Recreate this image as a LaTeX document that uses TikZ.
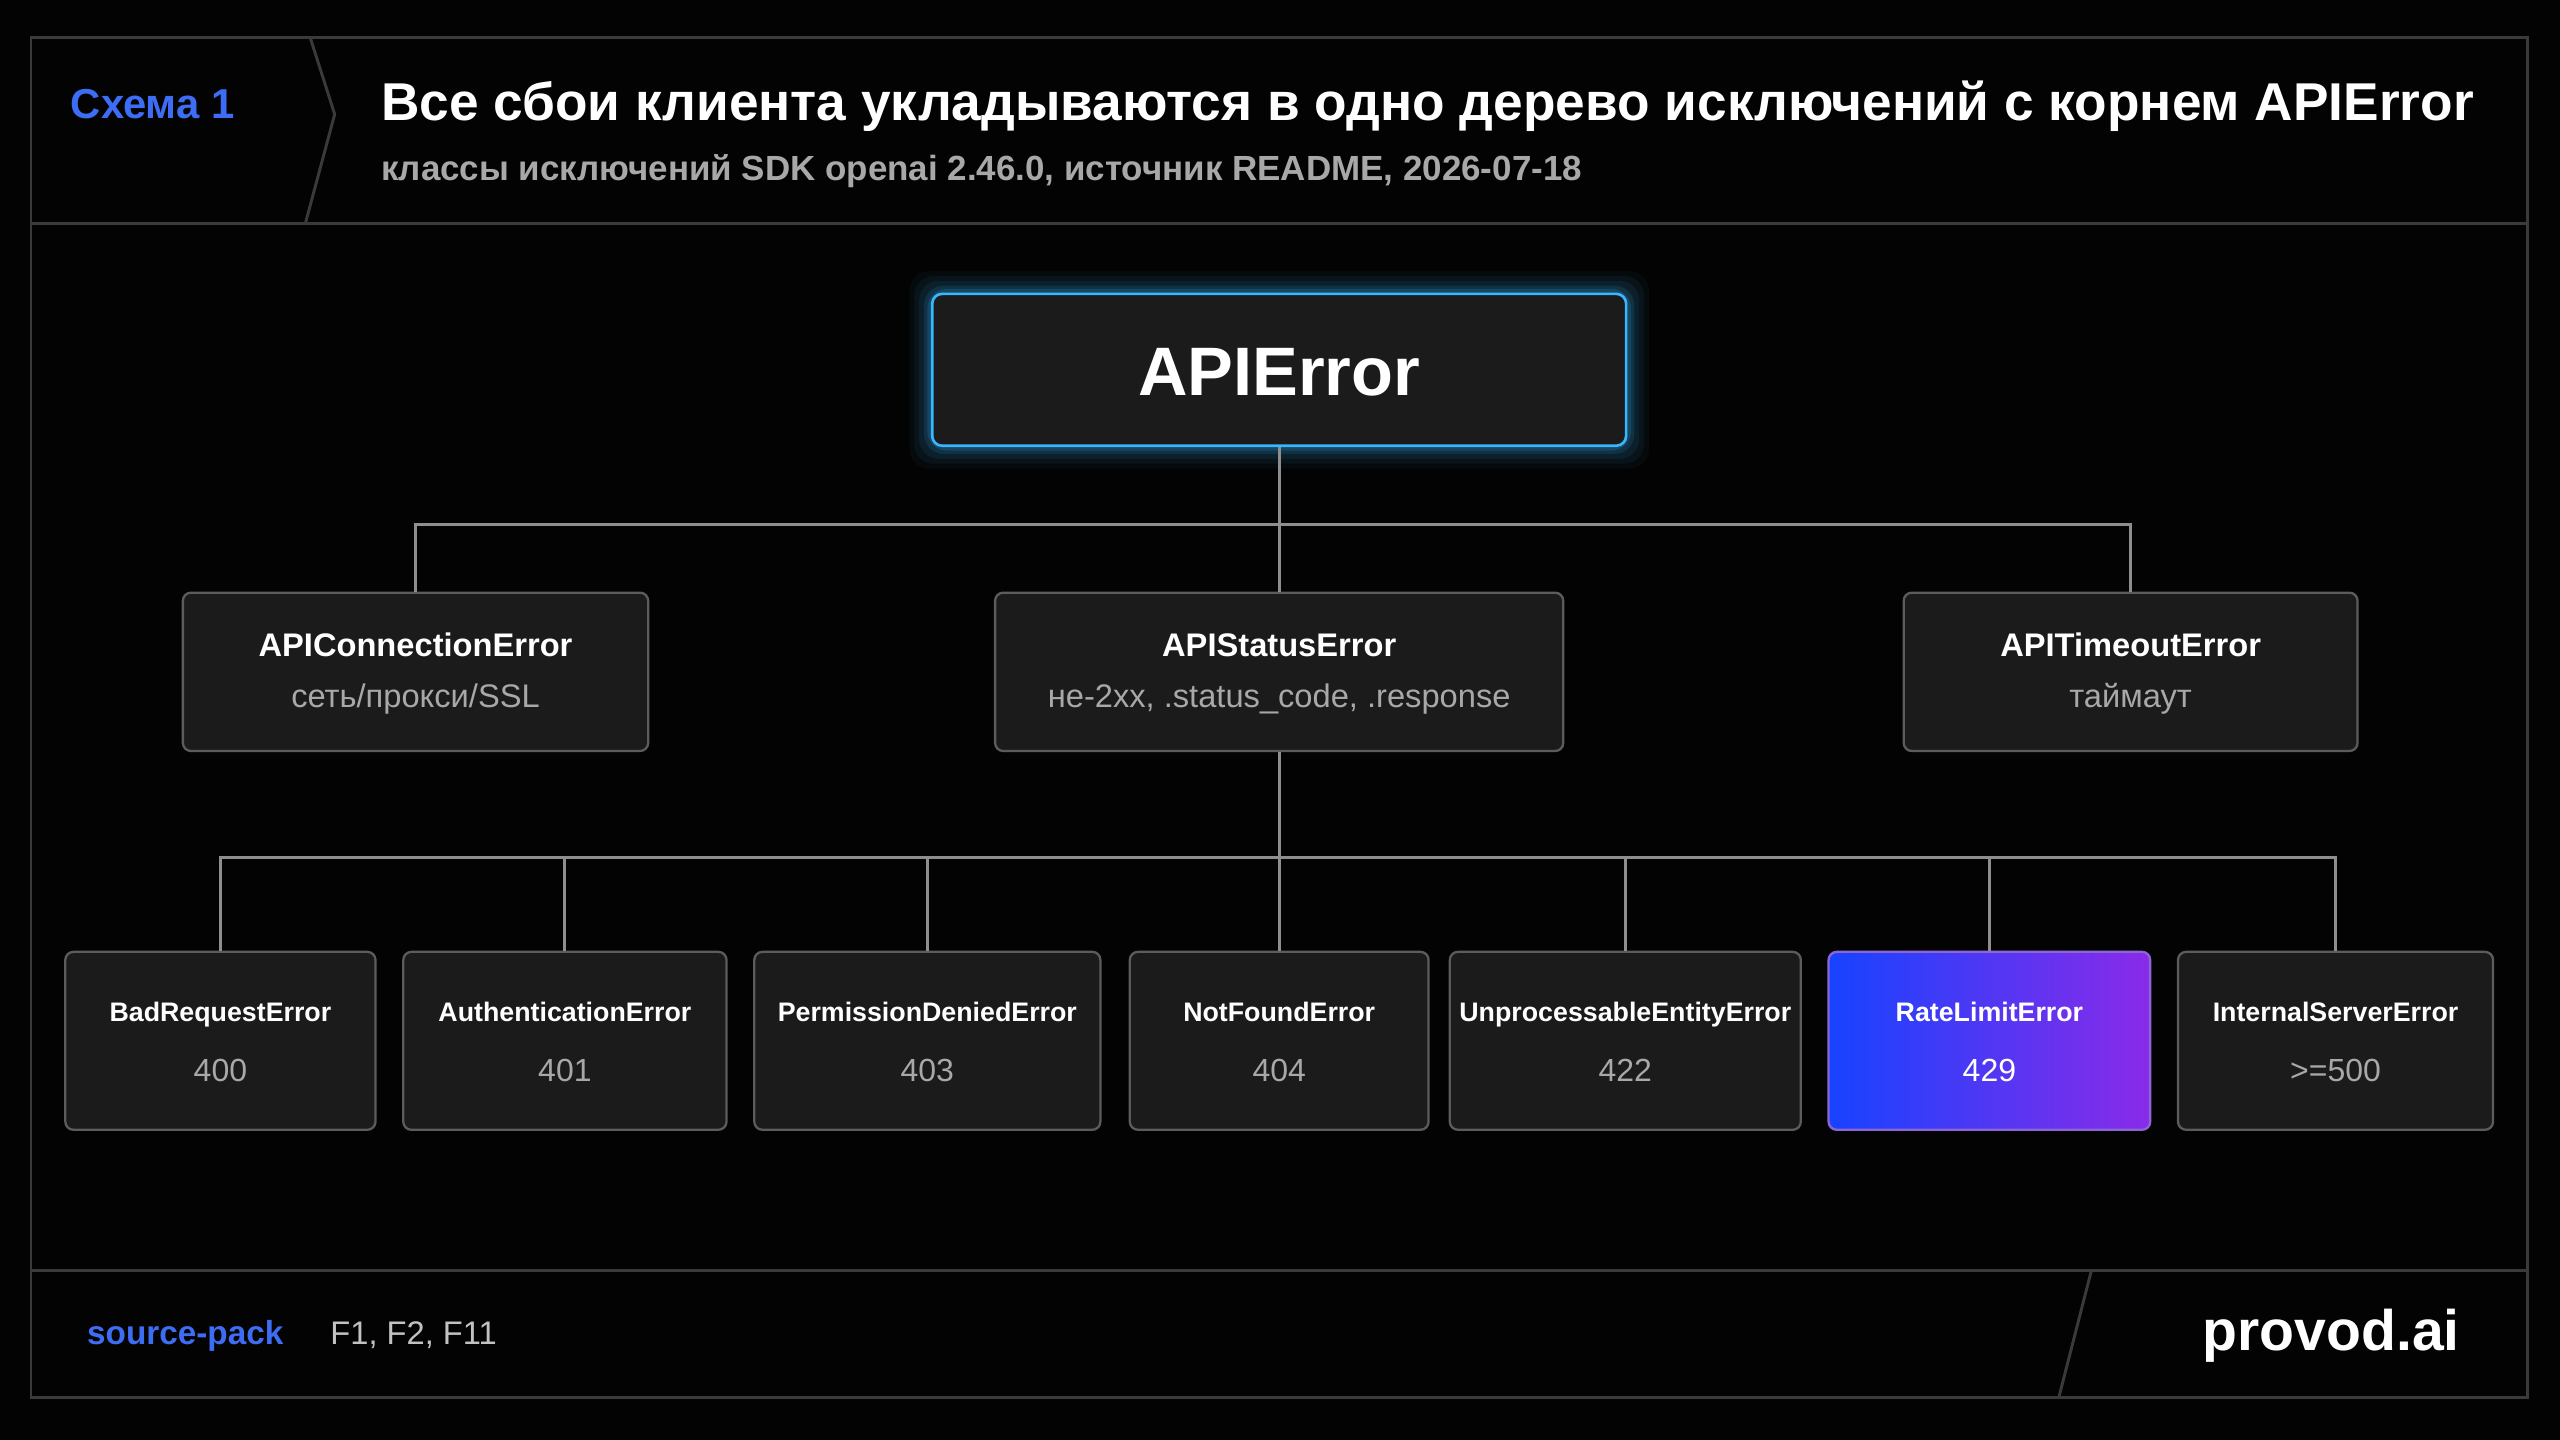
\documentclass[tikz,border=0pt]{standalone}
\usepackage{fontspec}
\setmainfont{Liberation Sans}
\begin{document}
\definecolor{bg}{HTML}{030303}
\definecolor{frame}{HTML}{3A3A3A}
\definecolor{boxfill}{HTML}{1B1B1B}
\definecolor{boxline}{HTML}{5C5C5C}
\definecolor{wire}{HTML}{8E8E8E}
\definecolor{accent}{HTML}{3D6DF5}
\definecolor{sub}{HTML}{A8A8A8}
\definecolor{glow}{HTML}{38B6FF}
\definecolor{gA}{HTML}{1743FF}
\definecolor{gB}{HTML}{8A2BE8}
\begin{tikzpicture}[x=0.5pt,y=-0.5pt,
  box/.style={draw=boxline,fill=boxfill,rounded corners=2.5pt,line width=0.7pt,inner sep=0},
  wireline/.style={draw=wire,line width=0.9pt},
  frameline/.style={draw=frame,line width=0.9pt},
  ttl/.style={text=white,font=\bfseries\fontsize{10}{12}\selectfont,inner sep=0},
  sbt/.style={text=sub,font=\fontsize{10}{12}\selectfont,inner sep=0},
  btl/.style={text=white,font=\bfseries\fontsize{8.2}{10}\selectfont,inner sep=0,text height=6pt,text depth=1.7pt},
  bsb/.style={text=sub,font=\fontsize{9.8}{12}\selectfont,inner sep=0}]
\fill[bg] (0,0) rectangle (1568,882);
\useasboundingbox (0,0) rectangle (1568,882);
% frame
\draw[frameline] (19,23) rectangle (1548,856);
\draw[frameline] (19,137) -- (1548,137);
\draw[frameline] (19,778) -- (1548,778);
\draw[frameline] (190,23) -- (205,70) -- (187,137);
\draw[frameline] (1281,778) -- (1261,856);
% header
\node[anchor=west,inner sep=0,text=accent,font=\bfseries\fontsize{12.8}{15}\selectfont] (scheme) at (43,64) {Схема 1};
\node[anchor=west,inner sep=0,text=white,font=\bfseries\fontsize{16.3}{19}\selectfont] (title) at (233,65) {Все сбои клиента укладываются в одно дерево исключений с корнем APIError};
\node[anchor=west,inner sep=0,text=sub,font=\bfseries\fontsize{10.7}{13}\selectfont] (subtitle) at (233,105) {классы исключений SDK openai 2.46.0, источник README, 2026-07-18};
% footer
\node[anchor=west,inner sep=0,text=accent,font=\bfseries\fontsize{10.2}{12}\selectfont] (sp) at (53,818) {source-pack};
\node[anchor=west,inner sep=0,text=sub!70!white,font=\fontsize{10}{12}\selectfont] (fs) at (202,818) {F1, F2, F11};
\node[anchor=east,inner sep=0,text=white,font=\bfseries\fontsize{17.5}{20}\selectfont] (brand) at (1507,818) {provod.ai};
% glow
\foreach \i/\o in {14/0.04,11/0.06,8/0.08,5/0.12,3/0.16}{
  \fill[glow,opacity=\o,rounded corners=6pt] (571-\i,180-\i) rectangle (996+\i,273+\i);}
\node[draw=glow,fill=boxfill,rounded corners=3pt,line width=0.8pt,minimum width=212.5pt,minimum height=46.5pt,inner sep=0] (root) at (783.5,226.5) {};
\node[text=white,font=\bfseries\fontsize{21}{24}\selectfont,inner sep=0] (roott) at (783.5,228) {APIError};
% level 2
\node[box,minimum width=142.5pt,minimum height=48.5pt] (conn) at (254.5,411.5) {};
\node[box,minimum width=174pt,minimum height=48.5pt] (stat) at (783.5,411.5) {};
\node[box,minimum width=139pt,minimum height=48.5pt] (tout) at (1305,411.5) {};
\node[ttl] at (254.5,395) {APIConnectionError};
\node[sbt] at (254.5,428) {сеть/прокси/SSL};
\node[ttl] at (783.5,395) {APIStatusError};
\node[sbt] at (783.5,428) {не-2xx, .status\_code, .response};
\node[ttl] at (1305,395) {APITimeoutError};
\node[sbt] at (1305,428) {таймаут};
\draw[wireline] (root.south) -- (783.5,321) coordinate (j1);
\draw[wireline] (stat.north) -- (j1);
\draw[wireline] (j1) -| (conn.north);
\draw[wireline] (j1) -| (tout.north);
% level 3
\foreach \n/\a/\b in {bad/40/230, auth/247/445, perm/462/674, nf/692/875, unp/888/1103, ise/1334/1527}{
  \pgfmathsetmacro\w{(\b-\a)/2}
  \node[box,minimum width=\w pt,minimum height=54.5pt] (\n) at ({(\a+\b)/2},637.5) {};
}
\node[draw=blue!50!violet!60!white,left color=gA,right color=gB,rounded corners=2.5pt,line width=0.7pt,minimum width=98.5pt,minimum height=54.5pt,inner sep=0] (rl) at (1218.5,637.5) {};
\foreach \n/\t/\c in {bad/BadRequestError/400, auth/AuthenticationError/401, perm/PermissionDeniedError/403, nf/NotFoundError/404, unp/UnprocessableEntityError/422, ise/InternalServerError/>=500}{
  \node[btl] at ([yshift=8.2pt]\n.center) {\t};
  \node[bsb] at ([yshift=-9pt]\n.center) {\c};
}
\node[btl] at ([yshift=8.2pt]rl.center) {RateLimitError};
\node[bsb,text=white] at ([yshift=-9pt]rl.center) {429};
\draw[wireline] (stat.south) -- (783.5,525) coordinate (j2);
\draw[wireline] (j2) -- (nf.north);
\foreach \n in {bad,auth,perm,unp,rl,ise}{\draw[wireline] (j2) -| (\n.north);}
\end{tikzpicture}
\end{document}
